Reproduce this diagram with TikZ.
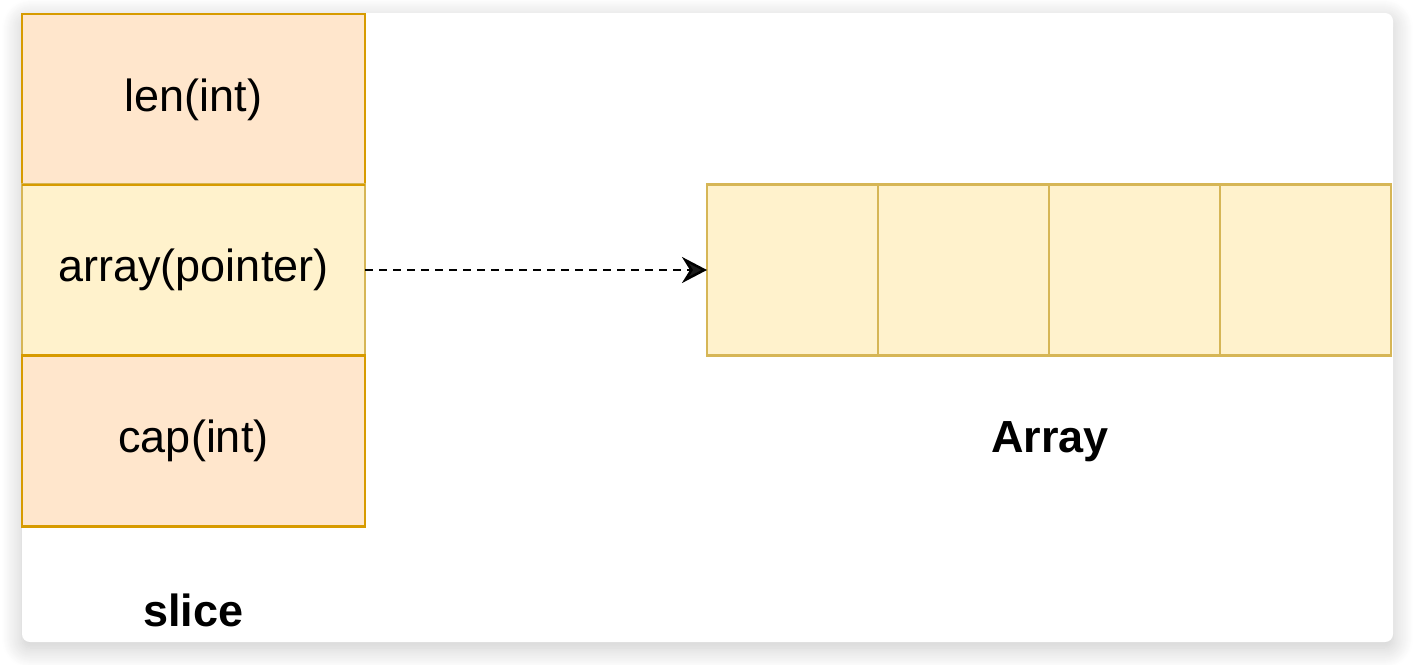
\documentclass[tikz,border=0pt]{standalone}
\usepackage{fontspec}
\setmainfont{Liberation Sans}
\usetikzlibrary{arrows.meta,positioning,shadows.blur}

\definecolor{sliceFill}{HTML}{FFE6CC}
\definecolor{sliceLine}{HTML}{D79B00}
\definecolor{arrFill}{HTML}{FFF2CC}
\definecolor{arrLine}{HTML}{D6B656}

\tikzset{
  field/.style={draw=sliceLine, fill=sliceFill, line width=1.3pt, minimum width=171.5pt,
    minimum height=85.5pt, inner sep=0pt, outer sep=0pt, font=\fontsize{22.5}{26}\selectfont},
  ptrfield/.style={field, draw=arrLine, fill=arrFill},
  cell/.style={draw=arrLine, fill=arrFill, line width=1.2pt, minimum width=85.5pt,
    minimum height=85.5pt, inner sep=0pt, outer sep=0pt},
  title/.style={font=\fontsize{22.5}{26}\selectfont\bfseries}
}

\begin{document}
\begin{tikzpicture}[x=0.5pt, y=-0.5pt]

		\useasboundingbox (0,0) rectangle (1418,664);
		\fill[white, rounded corners=4pt, blur shadow={shadow xshift=0pt, shadow yshift=-3pt,
		  shadow blur radius=10pt, shadow blur steps=20, shadow opacity=22}] (22,13) rectangle (1393,642);

		% slice header
		\node[field] (len) at (193.5,99.5) {len(int)};
		\node[ptrfield] (ptr) at (193.5,270) {array(pointer)};
		\node[field] (cap) at (193.5,441) {cap(int)};
		\draw[sliceLine, line width=1.3pt] (len.south west) -- (len.south east);
		\draw[sliceLine, line width=1.3pt] (cap.north west) -- (cap.north east);
		\node[title] (slicename) at (193.5,610) {slice};

		% backing array
		\node[cell] (c1) at (792.5,270) {};
		\node[cell, right=0pt of c1] (c2) {};
		\node[cell, right=0pt of c2] (c3) {};
		\node[cell, right=0pt of c3] (c4) {};
		\node[title] (arrname) at (1050,442) {Array};

		\draw[dashed, dash pattern=on 4pt off 3pt, line width=1.25pt,
		  -{Stealth[length=12.5pt, width=13pt, inset=4pt]}] (ptr.east) -- (c1.west);

	\end{tikzpicture}
\end{document}
